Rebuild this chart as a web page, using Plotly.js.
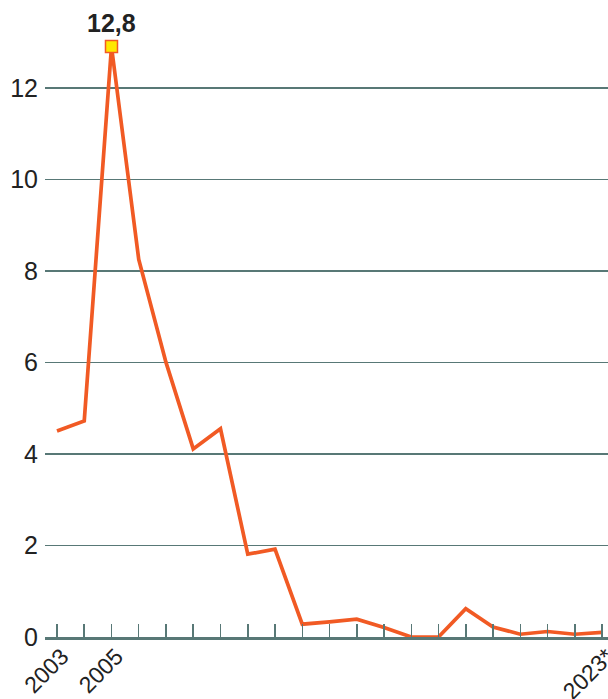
<!DOCTYPE html>
<html>
<head>
<meta charset="utf-8">
<script src="https://cdn.plot.ly/plotly-3.0.1.min.js"></script>
<style>html,body{margin:0;padding:0;background:#fff;}#chart{width:608px;height:699px;}</style>
</head>
<body>
<div id="chart"></div>
<script>
const years = [2003,2004,2005,2006,2007,2008,2009,2010,2011,2012,2013,2014,2015,2016,2017,2018,2019,2020,2021,2022,2023];
const values = [4.5,4.72,12.9,8.25,6.0,4.11,4.55,1.81,1.92,0.28,0.33,0.39,0.21,0.0,0.0,0.62,0.22,0.06,0.12,0.06,0.1];
const tickLabels = ['2003','','2005','','','','','','','','','','','','','','','','','','2023*'];
const peakYear = 2005;
const peakValue = 12.9;
const peakLabel = '12,8';

const slate = '#587876';
const orange = '#f15a24';

const data = [
  {
    x: years, y: values, type: 'scatter', mode: 'lines',
    line: {color: orange, width: 3.7},
    hoverinfo: 'skip'
  },
  {
    x: [peakYear], y: [peakValue], type: 'scatter', mode: 'markers',
    marker: {symbol: 'square', size: 12, color: '#ffe800', line: {color: orange, width: 1.5}},
    hoverinfo: 'skip'
  }
];

const layout = {
  width: 608, height: 699,
  margin: {l: 45, r: 0, t: 10, b: 62},
  paper_bgcolor: '#fff', plot_bgcolor: '#fff',
  showlegend: false,
  font: {family: 'Liberation Sans, Arial, sans-serif', size: 25, color: '#222'},
  xaxis: {
    range: [2002.56, 2023.22],
    tickvals: years, ticktext: tickLabels,
    tickangle: -45,
    ticks: 'inside', ticklen: 13, tickwidth: 1.5, tickcolor: slate,
    showline: true, linecolor: slate, linewidth: 3,
    showgrid: false, zeroline: false,
    ticklabeloverflow: 'allow',
    ticklabelstandoff: -6, ticklabelshift: 5,
    tickfont: {size: 23, color: '#222'}
  },
  yaxis: {
    range: [0, 13.7],
    tickvals: [0,2,4,6,8,10,12],
    showgrid: true, gridcolor: slate, gridwidth: 1.5,
    zeroline: false, showline: false,
    ticks: '', ticklabelstandoff: 6,
    tickfont: {size: 25, color: '#222'}
  },
  annotations: [{
    x: peakYear, y: peakValue, text: '<b>' + peakLabel + '</b>',
    showarrow: false, yshift: 24,
    font: {size: 25, color: '#222'}
  }]
};

Plotly.newPlot('chart', data, layout, {displayModeBar: false, staticPlot: true});
</script>
</body>
</html>
